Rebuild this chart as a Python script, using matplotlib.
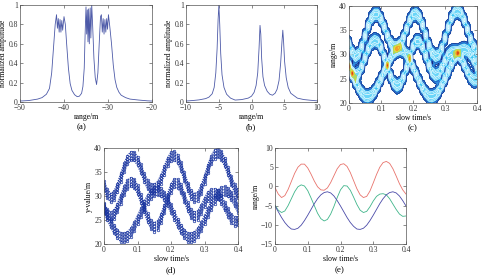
import numpy as np
import matplotlib
matplotlib.use("Agg")
import matplotlib.pyplot as plt

plt.rcParams['font.family'] = ['Liberation Serif', 'DejaVu Serif']
plt.rcParams['font.size'] = 5.5

# ---- panel (a): range profile, three wide peaks
range_a = [-50.0, -48.0, -46.0, -45.0, -44.0, -43.3, -42.8, -42.4, -42.0, -41.7,
           -41.5, -41.3, -41.1, -40.9, -40.7, -40.5, -40.3, -40.0, -39.7, -39.4,
           -39.0, -38.6, -38.2, -37.6, -37.0, -36.5, -36.0, -35.7, -35.4, -35.2,
           -35.0, -34.85, -34.7, -34.55, -34.4, -34.25, -34.05, -33.9, -33.7, -33.5,
           -33.2, -32.9, -32.6, -32.3, -32.0, -31.7, -31.5, -31.3, -31.1, -30.9,
           -30.7, -30.5, -30.3, -30.1, -29.9, -29.6, -29.2, -28.8, -28.4, -28.0,
           -27.5, -27.0, -26.0, -25.0, -23.0, -21.0, -20.0]
amp_a = [0.010, 0.015, 0.030, 0.045, 0.080, 0.140, 0.300, 0.550, 0.800, 0.900,
         0.760, 0.860, 0.720, 0.850, 0.720, 0.840, 0.740, 0.880, 0.800, 0.600,
         0.350, 0.190, 0.120, 0.075, 0.055, 0.060, 0.090, 0.160, 0.350, 0.700,
         0.980, 0.700, 0.950, 0.620, 0.960, 0.600, 0.970, 0.660, 1.000, 0.800,
         0.450, 0.250, 0.180, 0.300, 0.600, 0.880, 0.900, 0.720, 0.860, 0.700,
         0.850, 0.720, 0.860, 0.750, 0.900, 0.780, 0.600, 0.380, 0.230, 0.150,
         0.100, 0.070, 0.045, 0.030, 0.020, 0.012, 0.010]

# ---- panel (b): range profile, three sharp peaks
range_b = [-10.0, -9.0, -8.0, -7.0, -6.5, -6.0, -5.7, -5.45, -5.25, -5.1,
           -4.98, -4.85, -4.7, -4.5, -4.2, -3.8, -3.2, -2.5, -1.5, -0.5,
           0.0, 0.4, 0.7, 0.95, 1.15, 1.3, 1.42, 1.55, 1.75, 2.0,
           2.4, 2.8, 3.2, 3.6, 3.9, 4.2, 4.45, 4.65, 4.78, 4.9,
           5.05, 5.3, 5.6, 6.0, 7.0, 8.0, 9.0, 10.0]
amp_b = [0.010, 0.015, 0.022, 0.035, 0.050, 0.085, 0.150, 0.300, 0.550, 0.850,
         1.000, 0.800, 0.500, 0.280, 0.150, 0.080, 0.040, 0.020, 0.025, 0.040,
         0.060, 0.100, 0.170, 0.300, 0.550, 0.790, 0.700, 0.450, 0.260, 0.170,
         0.110, 0.080, 0.070, 0.090, 0.130, 0.220, 0.400, 0.620, 0.740, 0.620,
         0.420, 0.250, 0.150, 0.090, 0.040, 0.025, 0.018, 0.012]

# ---- panel (e): three target range histories, also used for (c) and (d)
slow_time = [0.00, 0.01, 0.02, 0.03, 0.04, 0.05, 0.06, 0.07, 0.08, 0.09,
             0.10, 0.11, 0.12, 0.13, 0.14, 0.15, 0.16, 0.17, 0.18, 0.19,
             0.20, 0.21, 0.22, 0.23, 0.24, 0.25, 0.26, 0.27, 0.28, 0.29,
             0.30, 0.31, 0.32, 0.33, 0.34, 0.35, 0.36, 0.37, 0.38, 0.39, 0.40]
track_red = [-0.3, -2.0, -2.9, -2.4, -0.8, 1.3, 3.4, 5.0, 5.8, 5.8,
             4.8, 3.2, 1.4, -0.1, -0.9, -1.0, -0.4, 1.0, 2.8, 4.6,
             5.7, 5.9, 5.2, 3.6, 1.5, -0.6, -2.2, -2.9, -2.6, -1.2,
             0.9, 3.1, 5.0, 6.2, 6.5, 6.0, 4.6, 2.7, 0.7, -0.9, -2.0]
track_green = [-4.9, -6.2, -6.8, -6.4, -5.0, -3.2, -1.4, -0.1, 0.4, 0.1,
               -1.1, -3.0, -5.0, -7.0, -8.4, -9.0, -8.6, -7.2, -5.2, -2.9,
               -0.9, 0.2, 0.1, -1.0, -2.8, -4.7, -6.2, -6.8, -6.5, -5.3,
               -3.8, -2.6, -2.0, -1.9, -2.2, -3.2, -4.6, -6.0, -7.2, -7.8, -7.7]
track_blue = [-5.1, -6.6, -8.1, -9.4, -10.4, -11.1, -11.2, -10.9, -10.1, -8.9,
              -7.5, -6.0, -4.5, -3.2, -2.2, -1.6, -1.4, -1.7, -2.5, -3.7,
              -5.1, -6.6, -8.1, -9.4, -10.4, -11.1, -11.2, -10.9, -10.1, -8.9,
              -7.5, -6.0, -4.5, -3.2, -2.2, -1.6, -1.4, -1.7, -2.5, -3.7, -5.1]
track_offset = 32.5  # (c)/(d) ranges = (e) + offset

amp_ticks = [0, 0.2, 0.4, 0.6, 0.8, 1]
amp_labels = ['0', '0.2', '0.4', '0.6', '0.8', '1']
time_ticks = [0, 0.1, 0.2, 0.3, 0.4]
time_labels = ['0', '0.1', '0.2', '0.3', '0.4']

line_blue = '#4d5aa8'


def style(ax):
    ax.tick_params(direction='in', top=True, right=True, length=2,
                   width=0.4, pad=1.5, labelsize=5.5, colors='#333333')
    for s in ax.spines.values():
        s.set_linewidth(0.5)
        s.set_color('#555555')


fig = plt.figure(figsize=(4.86, 2.76), dpi=100)
W, H = 486.0, 276.0


def box(l, r, t, b):
    return [l / W, 1 - b / H, (r - l) / W, (b - t) / H]


# (a)
ax = fig.add_axes(box(20, 152, 5, 102))
ax.plot(range_a, amp_a, color=line_blue, lw=0.6)
ax.set_xlim(-50, -20)
ax.set_ylim(0, 1)
ax.set_xticks([-50, -40, -30, -20])
ax.set_yticks(amp_ticks)
ax.set_yticklabels(amp_labels)
ax.set_xlabel('range/m', labelpad=1)
ax.set_ylabel('normalized amplitude', labelpad=1)
style(ax)

# (b)
ax = fig.add_axes(box(186, 317, 5, 102))
ax.plot(range_b, amp_b, color=line_blue, lw=0.6)
ax.set_xlim(-10, 10)
ax.set_ylim(0, 1)
ax.set_xticks([-10, -5, 0, 5, 10])
ax.set_yticks(amp_ticks)
ax.set_yticklabels(amp_labels)
ax.set_xlabel('range/m', labelpad=1)
ax.set_ylabel('normalized amplitude', labelpad=1)
style(ax)

# (c) contour of the range-time image
t_arr = np.array(slow_time)
tracks = [np.array(track_red), np.array(track_green), np.array(track_blue)]
r_grid = np.linspace(20, 40, 301)
Z = np.zeros((len(r_grid), len(t_arr)))
for tr in tracks:
    Z += np.exp(-((r_grid[:, None] - (tr[None, :] + track_offset)) / 1.05) ** 2)

ax = fig.add_axes(box(349, 477, 6, 103))
fill_lv = [0.08, 0.25, 0.5, 0.8, 1.15, 1.45, 1.75, 1.92, 3.0]
fill_c = ['#2f8fe0', '#22b2ee', '#3ec6f4', '#6ad6f8', '#9ad880', '#e8d840',
          '#f2a030', '#e86020']
ax.contourf(t_arr, r_grid, Z, levels=fill_lv, colors=fill_c)
line_lv = [0.08, 0.2, 0.38, 0.6, 0.85, 1.25, 1.6, 1.85]
line_c = ['#1a2580', '#2a50b8', '#d8f6ff', '#e8faff', '#f4fdff', '#c8d840',
          '#f09020', '#d84018']
ax.contour(t_arr, r_grid, Z, levels=line_lv, colors=line_c, linewidths=0.5)
ax.set_xlim(0, 0.4)
ax.set_ylim(20, 40)
ax.set_xticks(time_ticks)
ax.set_xticklabels(time_labels)
ax.set_yticks([20, 25, 30, 35, 40])
ax.set_xlabel('slow time/s', labelpad=1)
ax.set_ylabel('range/m', labelpad=1)
style(ax)

# (d) extracted points
ax = fig.add_axes(box(104, 238, 148, 244))
for tr in tracks:
    for d in [-0.9, -0.3, 0.3, 0.9]:
        ax.plot(t_arr, tr + track_offset + d, color='#1a35a0', lw=0.9,
                ls=(0, (1, 0.8)), marker='o', ms=1.8, mfc='none', mew=0.5)
ax.set_xlim(0, 0.4)
ax.set_ylim(20, 40)
ax.set_xticks(time_ticks)
ax.set_xticklabels(time_labels)
ax.set_yticks([20, 25, 30, 35, 40])
ax.set_xlabel('slow time/s', labelpad=1)
ax.set_ylabel('y-value/m', labelpad=1)
style(ax)

# (e) range histories
ax = fig.add_axes(box(275, 406, 148, 244))
ax.plot(t_arr, track_red, color='#e8736c', lw=0.6)
ax.plot(t_arr, track_green, color='#3fb58a', lw=0.6)
ax.plot(t_arr, track_blue, color='#4a4aa8', lw=0.6)
ax.set_xlim(0, 0.4)
ax.set_ylim(-15, 10)
ax.set_xticks(time_ticks)
ax.set_xticklabels(time_labels)
ax.set_yticks([-15, -10, -5, 0, 5, 10])
ax.set_xlabel('slow time/s', labelpad=1)
ax.set_ylabel('range/m', labelpad=1)
style(ax)

# captions
for x, y, s in [(82, 127, '(a)'), (251, 127, '(b)'), (413, 128, '(c)'),
                (171, 270, '(d)'), (340, 270, '(e)')]:
    fig.text(x / W, 1 - y / H, s, ha='center', va='center', fontsize=6.5)

fig.savefig('out.png', dpi=100)
